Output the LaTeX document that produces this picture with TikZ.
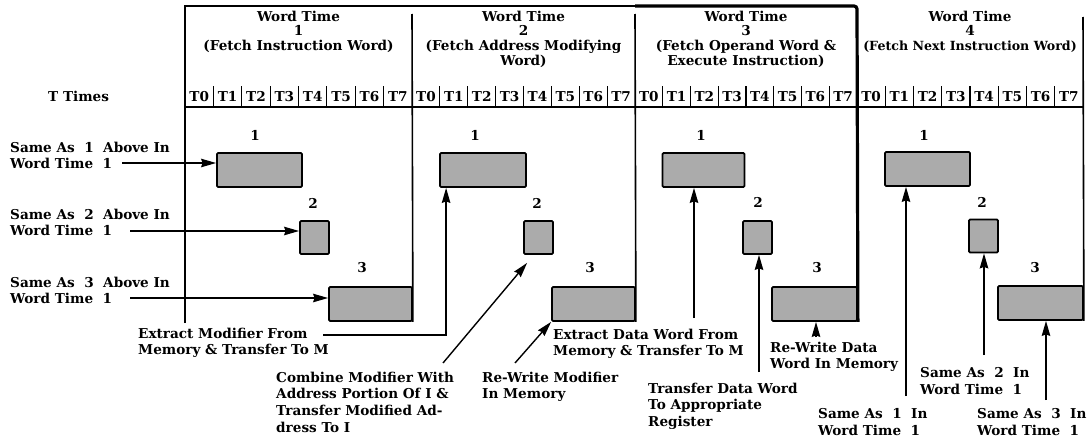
\documentclass[tikz,border=0pt]{standalone}
\usepackage{fontspec}
\setmainfont{DejaVu Serif}
\usetikzlibrary{arrows.meta}
\begin{document}
\begin{tikzpicture}[x=1pt,y=-1pt,
  font=\bfseries\fontsize{13.6}{16.7}\selectfont,
  frame/.style={line width=1.6pt},
  heavy/.style={line width=3.2pt},
  tick/.style={line width=1.2pt},
  slot/.style={draw, line width=1.8pt, fill=black!33, rounded corners=1.2pt,
    inner sep=0pt, minimum height=34pt},
  hd/.style={anchor=base, inner sep=0pt},
  num/.style={anchor=base, inner sep=0pt},
  lbl/.style={anchor=north west, align=left, inner sep=0pt},
  arr/.style={line width=1.4pt, arrows={-Stealth[length=15pt,width=8.5pt,inset=1.5pt]}},
]
\useasboundingbox (0,0) rectangle (1090,439);

% ---- header texts
\node[hd] (w1a) at (298.5,21.5) {Word Time};
\node[hd] (w1b) at (298.5,35.5) {1};
\node[hd] (w1c) at (298.5,50.5) {(Fetch Instruction Word)};
\node[hd] (w2a) at (523.5,21.5) {Word Time};
\node[hd] (w2b) at (523.5,35.5) {2};
\node[hd] (w2c) at (523.5,50.5) {(Fetch Address Modifying};
\node[hd] (w2d) at (523.5,65.5) {Word)};
\node[hd] (w3a) at (746,21.5) {Word Time};
\node[hd] (w3b) at (746,35.5) {3};
\node[hd] (w3c) at (746,50.5) {(Fetch Operand Word \&};
\node[hd] (w3d) at (746,65.5) {Execute Instruction)};
\node[hd] (w4a) at (970,21.5) {Word Time};
\node[hd] (w4b) at (970,35.5) {4};
\node[hd, font=\bfseries\fontsize{12.6}{15}\selectfont] (w4c) at (970,50.5) {(Fetch Next Instruction Word)};

\node[anchor=base west, inner sep=0pt] (tt) at (48,101.5) {T Times};

% ---- T0..T7 cells of each word time
\foreach \xs/\xe in {185/412, 412/635, 635/857, 857/1083}{
  \pgfmathsetmacro{\w}{(\xe-\xs)/8}
  \foreach \k in {0,...,7}{
    \node[hd] at ({\xs+(\k+0.5)*\w},101.5) {T\k};
  }
  \foreach \k in {1,...,7}{
    \draw[tick] ({\xs+\k*\w},86) -- ({\xs+\k*\w},107);
  }
}

% ---- operation boxes
\node[slot, minimum width=85pt] (b11) at (259.5,170) {};
\node[slot, minimum width=29pt, minimum height=33pt] (b12) at (314.5,237.5) {};
\node[slot, minimum width=83pt] (b13) at (370.5,304) {};
\node[slot, minimum width=86pt] (b21) at (483,170) {};
\node[slot, minimum width=29pt, minimum height=33pt] (b22) at (538.5,237.5) {};
\node[slot, minimum width=83pt] (b23) at (593.5,304) {};
\node[slot, minimum width=82pt] (b31) at (703.5,170) {};
\node[slot, minimum width=29pt, minimum height=33pt] (b32) at (757.5,237.5) {};
\node[slot, minimum width=85pt] (b33) at (814.5,304) {};
\node[slot, minimum width=85pt] (b41) at (927.5,169) {};
\node[slot, minimum width=29pt, minimum height=33pt] (b42) at (983.5,236) {};
\node[slot, minimum width=85pt] (b43) at (1040.5,303) {};

% ---- frame and word time dividers
\draw[frame] (185,323) -- (185,6) -- (640,6);
\draw[heavy, rounded corners=3pt] (635,6) -- (857,6) -- (b33.south east);
\draw[frame] (412,14) -- (b13.south east);
\draw[frame] (635,14) -- (b23.south east);
\draw[frame] (1083,17) -- (b43.south east);
\draw[frame] (185,107) -- (1083,107);

% ---- box numbers
\foreach \x/\y/\t in {255/140/1, 313/208/2, 362/272/3,
  475/140/1, 537/208/2, 590/272/3,
  701/140/1, 758/207/2, 817/272/3,
  924/140/1, 982/207/2, 1035/272/3}{
  \node[num] at (\x,\y) {\t};
}

% ---- left labels
\node[lbl] (l1) at (10,141.6) {Same As~~1~~Above In\\Word Time~~1};
\node[lbl] (l2) at (10,208.6) {Same As~~2~~Above In\\Word Time~~1};
\node[lbl] (l3) at (10,276.6) {Same As~~3~~Above In\\Word Time~~1};
\coordinate (a1) at (122,163);
\coordinate (a2) at (130,231);
\coordinate (a3) at (130,298);
\draw[arr] (a1) -- (a1 -| b11.west);
\draw[arr] (a2) -- (a2 -| b12.west);
\draw[arr] (a3) -- (a3 -| b13.west);

% ---- bottom labels
\node[lbl] (e1) at (138,327.6) {Extract Modifier From\\Memory \& Transfer To M};
\node[lbl] (cm) at (276,371.6) {Combine Modifier With\\Address Portion Of I \&\\Transfer Modified Ad-\\dress To I};
\node[lbl] (rm) at (482,371.6) {Re-Write Modifier\\In Memory};
\node[lbl] (ed) at (553,328.6) {Extract Data Word From\\Memory \& Transfer To M};
\node[lbl] (td) at (648,382.6) {Transfer Data Word\\To Appropriate\\Register};
\node[lbl] (rd) at (770,341.6) {Re-Write Data\\Word In Memory};
\node[lbl] (s1) at (818,408.6) {Same As~~1~~In\\Word Time~~1};
\node[lbl] (s2) at (920,367.6) {Same As~~2~~In\\Word Time~~1};
\node[lbl] (s3) at (977,408.6) {Same As~~3~~In\\Word Time~~1};

\coordinate (c1) at (323,335);
\coordinate (c2) at (443,363);
\coordinate (c3) at (515,363);
\coordinate (c4) at (694,318);
\coordinate (c5) at (759,372);
\coordinate (c6) at (816,337);
\coordinate (c7) at (906,396);
\coordinate (c8) at (984,355);
\coordinate (c9) at (1046,400);

\draw[arr] (c1) -| ([xshift=7pt]b21.south west);
\draw[arr] (c2) -- ([xshift=4pt,yshift=-8pt]b22.south west);
\draw[arr] (c3) -- (b23.south west);
\draw[arr] (c4) -- (c4 |- b31.south);
\draw[arr] (c5) -- (c5 |- b32.south);
\draw[arr] (c6) -- (c6 |- b33.south);
\draw[arr] (c7) -- (c7 |- b41.south);
\draw[arr] (c8) -- (c8 |- b42.south);
\draw[arr] (c9) -- (c9 |- b43.south);
\end{tikzpicture}
\end{document}
